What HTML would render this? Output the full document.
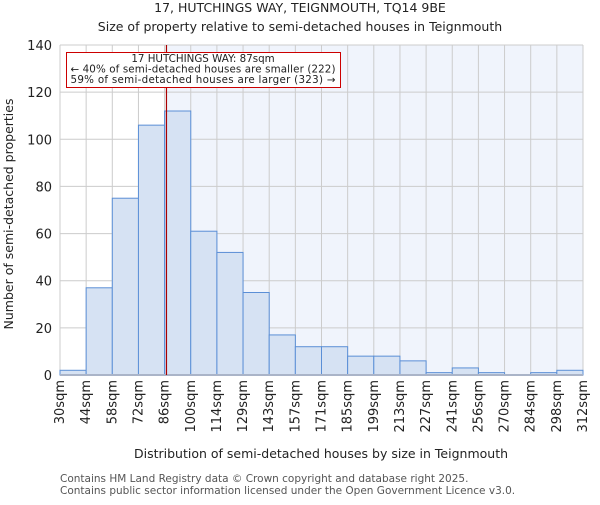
<!DOCTYPE html>
<html><head><meta charset="utf-8"><style>
body{margin:0;background:#fff}
svg text{font-family:"DejaVu Sans","Liberation Sans",sans-serif;fill:#222}
</style></head><body>
<svg width="600" height="500" xmlns="http://www.w3.org/2000/svg">
<g id="root"></g>
</svg>
<script>
const categories=["30sqm","44sqm","58sqm","72sqm","86sqm","100sqm","114sqm","129sqm","143sqm","157sqm","171sqm","185sqm","199sqm","213sqm","227sqm","241sqm","256sqm","270sqm","284sqm","298sqm","312sqm"];
const counts=[2,37,75,106,112,61,52,35,17,12,12,8,8,6,1,3,1,0,1,2];
const yTicks=[0,20,40,60,80,100,120,140];
const markerBin=4+1/14;
const NS="http://www.w3.org/2000/svg";
const root=document.getElementById('root');
const L=60,R=583,T=45,B=375,YMAX=140;
const bw=(R-L)/counts.length;
const xs=i=>L+i*bw;
const ys=v=>B-(v/YMAX)*(B-T);
function mk(t,a,p){const e=document.createElementNS(NS,t);for(const k in a)e.setAttribute(k,a[k]);(p||root).appendChild(e);return e;}
const mx=xs(markerBin);
let e;
e=mk('rect',{x:L,y:T,width:mx-L,height:B-T,fill:'#ffffff'});


e=mk('rect',{x:mx,y:T,width:R-mx,height:B-T,fill:'#f0f4fc'});


for(let i=0;i<categories.length;i++){
 e=mk('line',{x1:xs(i),x2:xs(i),y1:T,y2:B,stroke:'#cccccc','stroke-width':1});
 
 
}
yTicks.forEach(v=>{
 e=mk('line',{x1:L,x2:R,y1:ys(v),y2:ys(v),stroke:'#cccccc','stroke-width':1});
 
 
 e=mk('text',{x:L-8,y:ys(v)+5,'text-anchor':'end','font-size':13});
 e.textContent=v;
 
 
});
counts.forEach((c,i)=>{
 e=mk('rect',{x:xs(i),y:ys(c),width:bw,height:B-ys(c),fill:'#d6e2f3',stroke:'#5b8fd6','stroke-width':1});
 
 
});
categories.forEach((c,i)=>{
 const x=xs(i)+4;
 e=mk('text',{x:x,y:380,'text-anchor':'end','font-size':13,transform:`rotate(-90 ${x} 380)`});
 e.textContent=c;
 
 
});
e=mk('line',{x1:L,x2:R,y1:B,y2:B,stroke:'#aab4c8','stroke-width':2});


e=mk('line',{x1:mx,x2:mx,y1:T,y2:B,stroke:'#aa0000','stroke-width':1.2});


e=mk('rect',{x:66.5,y:52.5,width:274,height:35,fill:'#fff',stroke:'#cc0000','stroke-width':1});


const ann=["17 HUTCHINGS WAY: 87sqm","← 40% of semi-detached houses are smaller (222)","59% of semi-detached houses are larger (323) →"];
ann.forEach((t,i)=>{
 e=mk('text',{x:203,y:62+i*10.5,'text-anchor':'middle','font-size':10.3,textLength:i?265:0});
 if(!i)e.removeAttribute('textLength');
 e.textContent=t;
 
 
});
e=mk('text',{x:300,y:12,'text-anchor':'middle','font-size':12.5});
e.textContent="17, HUTCHINGS WAY, TEIGNMOUTH, TQ14 9BE";


e=mk('text',{x:300,y:31,'text-anchor':'middle','font-size':12.5});
e.textContent="Size of property relative to semi-detached houses in Teignmouth";


e=mk('text',{x:13,y:214,'text-anchor':'middle','font-size':12.5,transform:'rotate(-90 13 214)'});
e.textContent="Number of semi-detached properties";


e=mk('text',{x:321,y:458,'text-anchor':'middle','font-size':12.5});
e.textContent="Distribution of semi-detached houses by size in Teignmouth";


e=mk('text',{x:60,y:482,'font-size':10.5,style:'fill:#555'});
e.textContent="Contains HM Land Registry data © Crown copyright and database right 2025.";


e=mk('text',{x:60,y:494,'font-size':10.5,style:'fill:#555'});
e.textContent="Contains public sector information licensed under the Open Government Licence v3.0.";


</script>
</body></html>
